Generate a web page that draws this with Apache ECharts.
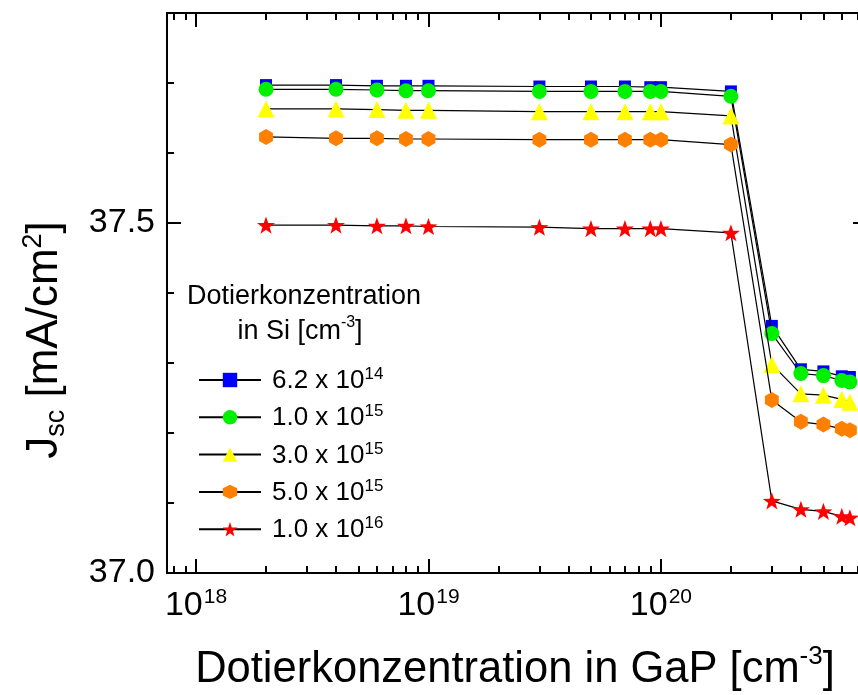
<!DOCTYPE html>
<html><head><meta charset="utf-8">
<script src="https://cdn.jsdelivr.net/npm/echarts@6/dist/echarts.min.js"></script>
<style>html,body{margin:0;padding:0;background:#fff;overflow:hidden}#c{width:870px;height:695px}</style>
</head><body><div id="c"></div>
<script>
const gapX = [2e18,4e18,6e18,8e18,1e19,3e19,5e19,7e19,9e19,1e20,2e20,3e20,4e20,5e20,6e20,6.5e20];
const j62e14 = [37.697,37.697,37.696,37.696,37.696,37.695,37.695,37.695,37.694,37.694,37.688,37.353,37.291,37.288,37.281,37.280];
const j10e15 = [37.691,37.691,37.690,37.689,37.689,37.688,37.688,37.688,37.688,37.688,37.681,37.342,37.285,37.282,37.275,37.273];
const j30e15 = [37.663,37.663,37.662,37.661,37.661,37.659,37.659,37.659,37.659,37.659,37.653,37.298,37.256,37.254,37.248,37.244];
const j50e15 = [37.623,37.621,37.621,37.620,37.620,37.619,37.619,37.619,37.619,37.619,37.612,37.247,37.216,37.212,37.206,37.204];
const j10e16 = [37.497,37.497,37.496,37.496,37.495,37.494,37.492,37.492,37.492,37.492,37.486,37.103,37.091,37.088,37.081,37.079];
const seriesNames = ['6.2 x 10^14','1.0 x 10^15','3.0 x 10^15','5.0 x 10^15','1.0 x 10^16'];
const xMajorTicks = [1e18,1e19,1e20];
const xMinorTicks = [8e17,9e17,2e18,3e18,4e18,5e18,6e18,7e18,8e18,9e18,2e19,3e19,4e19,5e19,6e19,7e19,8e19,9e19,2e20,3e20,4e20,5e20,6e20,7e20];
const yMajorTicks = [37.0,37.5];
const yMinorTicks = [37.1,37.2,37.3,37.4,37.6,37.7];

const HEX = 'path://M0,-10 L8.66,-5 L8.66,5 L0,10 L-8.66,5 L-8.66,-5 Z';
const STAR = 'path://M0,-10 L2.35,-3.24 L9.51,-3.09 L3.8,1.24 L5.88,8.09 L0,4 L-5.88,8.09 L-3.8,1.24 L-9.51,-3.09 L-2.35,-3.24 Z';
const FONT = 'Liberation Sans';
const XMIN = 7.5e17, XMAX = 7.7e20, YMIN = 37.0, YMAX = 37.8;

const chart = echarts.init(document.getElementById('c'));
function xAx(pos, ticks, len, labels) {
  return {
    type: 'log', logBase: 10, position: pos, min: XMIN, max: XMAX,
    axisLine: {show: true, onZero: false, lineStyle: {color: '#000', width: 2}},
    axisTick: {show: true, inside: true, length: len, customValues: ticks, lineStyle: {color: '#000', width: 2}},
    minorTick: {show: false},
    splitLine: {show: false},
    axisLabel: labels ? {
      show: true, customValues: xMajorTicks, margin: 14, fontFamily: FONT, color: '#000',
      formatter: v => '{b|10}{s|' + Math.round(Math.log10(v)) + '}',
      rich: {b: {fontSize: 34, fontFamily: FONT, color: '#000', lineHeight: 36, verticalAlign: 'bottom'},
             s: {fontSize: 21, fontFamily: FONT, color: '#000', lineHeight: 36, verticalAlign: 'top', padding: [0,0,0,1]}}
    } : {show: false}
  };
}
function yAx(pos, ticks, len, labels) {
  return {
    type: 'value', position: pos, min: YMIN, max: YMAX,
    axisLine: {show: true, onZero: false, lineStyle: {color: '#000', width: 2}},
    axisTick: {show: true, inside: true, length: len, customValues: ticks, lineStyle: {color: '#000', width: 2}},
    splitLine: {show: false},
    axisLabel: labels ? {show: true, customValues: yMajorTicks, margin: 12, fontSize: 34, fontFamily: FONT, color: '#000',
      formatter: v => v.toFixed(1)} : {show: false}
  };
}
const markers = [
  {symbol: 'rect', size: 12, color: '#0000ff', data: j62e14},
  {symbol: 'circle', size: 15, color: '#00f000', data: j10e15},
  {symbol: 'triangle', size: 17, color: '#ffff00', data: j30e15},
  {symbol: HEX, size: 16, color: '#ff8000', data: j50e15},
  {symbol: STAR, size: 18, color: '#ff0000', data: j10e16}
];
const series = markers.map((m, i) => ({
  name: seriesNames[i], type: 'line', xAxisIndex: 0, yAxisIndex: 0,
  data: gapX.map((x, k) => [x, m.data[k]]),
  symbol: m.symbol, symbolSize: m.size, symbolKeepAspect: true, showSymbol: true,
  lineStyle: {color: '#000', width: 1.2},
  itemStyle: {color: m.color, borderWidth: 0},
  emphasis: {disabled: true}, animation: false, z: 2 + i
}));

chart.setOption({
  animation: false,
  backgroundColor: '#fff',
  grid: {left: 167, width: 700, top: 13, height: 560, containLabel: false},
  xAxis: [xAx('bottom', xMajorTicks, 14, true), xAx('bottom', xMinorTicks, 7, false),
          xAx('top', xMajorTicks, 14, false), xAx('top', xMinorTicks, 7, false)],
  yAxis: [yAx('left', yMajorTicks, 14, true), yAx('left', yMinorTicks, 7, false),
          yAx('right', yMajorTicks, 14, false), yAx('right', yMinorTicks, 7, false)],
  legend: {
    orient: 'vertical', left: 193, top: 361, itemWidth: 62, itemHeight: 18, itemGap: 9.3,
    data: seriesNames,
    formatter: n => n.replace(/^(.*?)\^(\d+)$/, '{n|$1}{s|$2}'),
    textStyle: {fontSize: 26, fontFamily: FONT, color: '#000', padding: [0,0,0,6],
      rich: {n: {fontSize: 26, fontFamily: FONT, color: '#000', verticalAlign: 'bottom', lineHeight: 28},
             s: {fontSize: 17, fontFamily: FONT, color: '#000', verticalAlign: 'top', lineHeight: 28}}}
  },
  graphic: [
    {type: 'text', x: 304, y: 297, style: {text: 'Dotierkonzentration', fontSize: 27, fontFamily: FONT, fill: '#000', align: 'center', verticalAlign: 'middle'}},
    {type: 'text', x: 300, y: 330, style: {text: '{m|in Si [cm}{s|-3}{m|]}', align: 'center', verticalAlign: 'middle',
      rich: {m: {fontSize: 27, fontFamily: FONT, fill: '#000', lineHeight: 30, verticalAlign: 'bottom'}, s: {fontSize: 16, fontFamily: FONT, fill: '#000', verticalAlign: 'top', lineHeight: 30}}}},
    {type: 'text', x: 515, y: 668, style: {text: '{m|Dotierkonzentration in GaP [cm}{s|-3}{m|]}', align: 'center', verticalAlign: 'middle',
      rich: {m: {fontSize: 43.5, fontFamily: FONT, fill: '#000', lineHeight: 48, verticalAlign: 'bottom'}, s: {fontSize: 26, fontFamily: FONT, fill: '#000', verticalAlign: 'top', lineHeight: 48}}}},
    {type: 'text', x: 45, y: 340, rotation: Math.PI / 2, style: {text: '{m|J}{u|sc}{m| [mA/cm}{s|2}{m|]}', align: 'center', verticalAlign: 'middle',
      rich: {m: {fontSize: 44, fontFamily: FONT, fill: '#000', lineHeight: 50, verticalAlign: 'middle'},
             u: {fontSize: 27, fontFamily: FONT, fill: '#000', lineHeight: 50, verticalAlign: 'bottom'},
             s: {fontSize: 27, fontFamily: FONT, fill: '#000', lineHeight: 50, verticalAlign: 'top'}}}}
  ],
  series: series
});
</script></body></html>
